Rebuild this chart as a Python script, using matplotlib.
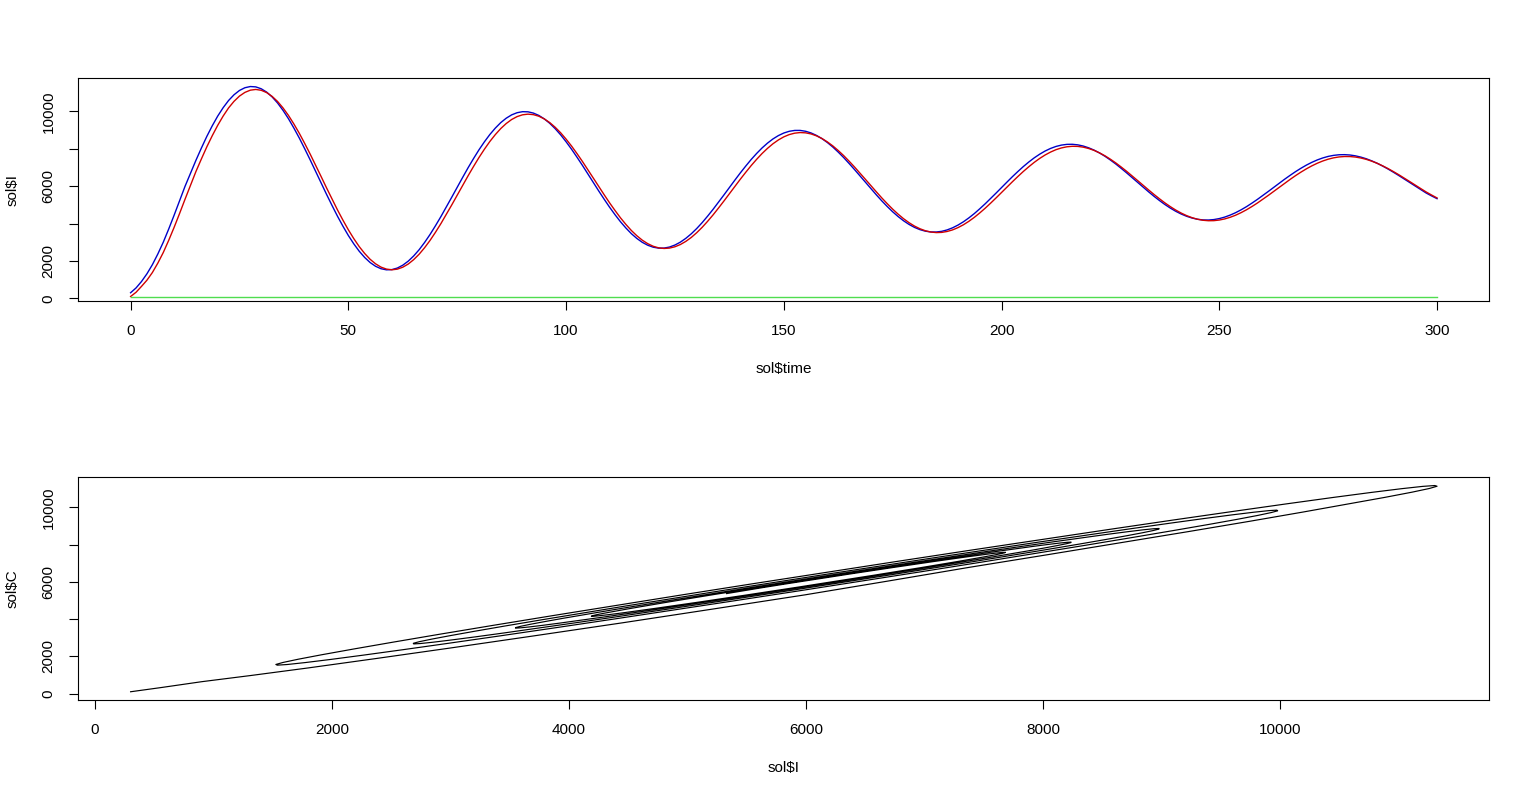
import numpy as np
import matplotlib.pyplot as plt

plt.rcParams['font.family'] = ['Liberation Sans', 'DejaVu Sans']

# sampling grid of the solution (every 1.25 time units, 0..300)
time = np.arange(0, 300.01, 1.25)

sol_I = [300, 557, 900, 1313, 1800, 2371, 3000, 3706, 4450, 5213,
         5990, 6690, 7379, 8033, 8657, 9226, 9744, 10194, 10580, 10886,
         11116, 11262, 11326, 11307, 11206, 11027, 10770, 10445, 10052, 9606,
         9103, 8567, 7991, 7398, 6784, 6173, 5559, 4969, 4396, 3862,
         3362, 2916, 2520, 2188, 1916, 1716, 1585, 1526, 1538, 1621,
         1773, 1989, 2268, 2599, 2985, 3412, 3880, 4370, 4887, 5410,
         5944, 6467, 6984, 7475, 7943, 8371, 8762, 9103, 9397, 9632,
         9811, 9926, 9981, 9974, 9906, 9780, 9595, 9359, 9072, 8744,
         8374, 7977, 7551, 7111, 6654, 6199, 5742, 5300, 4871, 4470,
         4094, 3758, 3457, 3204, 2996, 2841, 2736, 2686, 2689, 2744,
         2852, 3007, 3210, 3452, 3735, 4050, 4396, 4759, 5142, 5531,
         5928, 6319, 6705, 7072, 7424, 7746, 8041, 8300, 8523, 8703,
         8841, 8933, 8979, 8980, 8934, 8845, 8712, 8541, 8332, 8091,
         7819, 7526, 7210, 6883, 6544, 6205, 5864, 5534, 5212, 4911,
         4628, 4374, 4147, 3954, 3795, 3675, 3593, 3551, 3548, 3584,
         3660, 3772, 3919, 4096, 4304, 4535, 4791, 5059, 5343, 5632,
         5928, 6219, 6508, 6783, 7047, 7290, 7513, 7708, 7878, 8016,
         8123, 8195, 8234, 8238, 8208, 8145, 8050, 7926, 7773, 7596,
         7396, 7180, 6946, 6704, 6452, 6200, 5945, 5699, 5458, 5232,
         5019, 4827, 4655, 4509, 4388, 4295, 4229, 4194, 4189, 4213,
         4266, 4346, 4453, 4582, 4734, 4904, 5093, 5292, 5502, 5717,
         5937, 6154, 6370, 6576, 6774, 6957, 7125, 7273, 7402, 7507,
         7590, 7646, 7678, 7684, 7665, 7621, 7553, 7464, 7352, 7223,
         7075, 6915, 6742, 6562, 6375, 6188, 5998, 5813, 5633, 5477,
         5330]

# sol$C (red), lags I slightly
sol_C = [100, 325, 640, 971, 1380, 1883, 2450, 3102, 3800, 4539,
         5300, 6040, 6780, 7451, 8100, 8696, 9250, 9746, 10183, 10535,
         10815, 11013, 11132, 11170, 11125, 11001, 10799, 10527, 10183, 9782,
         9322, 8821, 8275, 7707, 7112, 6513, 5906, 5315, 4733, 4186,
         3667, 3196, 2768, 2401, 2090, 1848, 1671, 1565, 1528, 1562,
         1666, 1835, 2069, 2358, 2704, 3094, 3530, 3994, 4490, 4997,
         5519, 6037, 6554, 7051, 7531, 7976, 8389, 8756, 9079, 9347,
         9563, 9718, 9814, 9849, 9823, 9738, 9594, 9398, 9148, 8854,
         8515, 8146, 7743, 7321, 6879, 6433, 5981, 5539, 5105, 4695,
         4304, 3950, 3627, 3348, 3111, 2925, 2786, 2701, 2668, 2688,
         2759, 2879, 3047, 3257, 3511, 3798, 4119, 4462, 4829, 5206,
         5594, 5980, 6367, 6739, 7098, 7432, 7743, 8020, 8265, 8470,
         8636, 8757, 8833, 8865, 8850, 8792, 8689, 8548, 8366, 8152,
         7903, 7631, 7333, 7021, 6692, 6361, 6024, 5695, 5370, 5062,
         4769, 4502, 4258, 4047, 3866, 3723, 3615, 3547, 3517, 3527,
         3576, 3661, 3783, 3936, 4121, 4332, 4569, 4822, 5093, 5373,
         5662, 5950, 6238, 6516, 6785, 7036, 7271, 7481, 7666, 7822,
         7950, 8043, 8104, 8131, 8125, 8085, 8013, 7911, 7778, 7622,
         7439, 7238, 7018, 6787, 6544, 6297, 6046, 5800, 5558, 5327,
         5106, 4905, 4721, 4561, 4424, 4314, 4230, 4176, 4151, 4155,
         4188, 4248, 4335, 4446, 4582, 4737, 4911, 5098, 5299, 5506,
         5721, 5936, 6151, 6359, 6561, 6750, 6926, 7085, 7225, 7344,
         7441, 7514, 7562, 7584, 7582, 7556, 7505, 7432, 7336, 7222,
         7087, 6939, 6776, 6606, 6425, 6242, 6055, 5871, 5689, 5525,
         5369]

# third (green) variable, flat near zero
green_time = [0, 300]
green_val = [60, 60]


def r_lim(v):
    # R's default 4% range extension
    lo, hi = min(v), max(v)
    pad = 0.04 * (hi - lo)
    return lo - pad, hi + pad


def r_style(ax):
    for s in ax.spines.values():
        s.set_linewidth(0.8)
    ax.tick_params(length=6.5, width=0.8, labelsize=11, pad=10)
    for lab in ax.get_yticklabels():
        lab.set_rotation(90)
        lab.set_va('center')


fig = plt.figure(figsize=(15.3, 7.98), dpi=100)
left, width = 0.0512, 0.9222
ax1 = fig.add_axes([left, 0.6228, width, 0.2791])
ax2 = fig.add_axes([left, 0.1228, width, 0.2791])

# top: time series
ax1.plot(time, sol_I, color='#0000c8', lw=1.0)
ax1.plot(time, sol_C, color='#d00000', lw=1.0)
ax1.plot(green_time, green_val, color='#50dd50', lw=1.0)
ax1.set_xlim(*r_lim(time))
ax1.set_ylim(*r_lim(sol_I))
ax1.set_xticks(range(0, 301, 50))
ax1.set_yticks(range(0, 10001, 2000))
ax1.set_yticklabels(['0', '2000', '', '6000', '', '10000'])
r_style(ax1)
ax1.set_xlabel('sol$time', fontsize=11)
ax1.xaxis.set_label_coords(0.5, -0.305)
ax1.xaxis.label.set_va('center')
ax1.set_ylabel('sol$I', fontsize=11)
ax1.yaxis.set_label_coords(-0.0465, 0.5)
ax1.yaxis.label.set_va('center')

# bottom: phase plot C vs I
ax2.plot(sol_I, sol_C, color='black', lw=0.85)
ax2.set_xlim(*r_lim(sol_I))
ax2.set_ylim(*r_lim(sol_C))
ax2.set_xticks(range(0, 10001, 2000))
ax2.set_yticks(range(0, 10001, 2000))
ax2.set_yticklabels(['0', '2000', '', '6000', '', '10000'])
r_style(ax2)
ax2.set_xlabel('sol$I', fontsize=11)
ax2.xaxis.set_label_coords(0.5, -0.305)
ax2.xaxis.label.set_va('center')
ax2.set_ylabel('sol$C', fontsize=11)
ax2.yaxis.set_label_coords(-0.0465, 0.5)
ax2.yaxis.label.set_va('center')

fig.savefig('out.png', dpi=100)
